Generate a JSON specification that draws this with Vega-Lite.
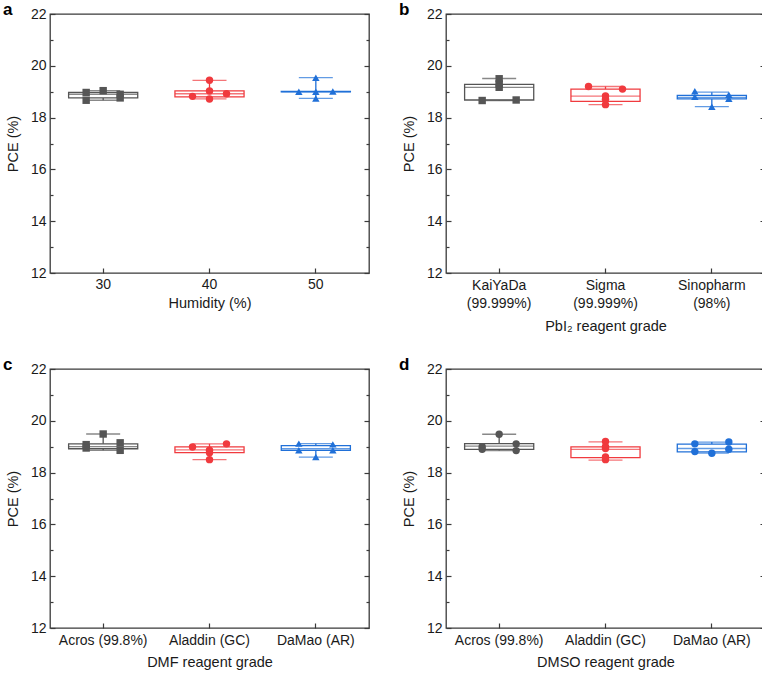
{
"$schema": "https://vega.github.io/schema/vega-lite/v6.json",
"background": "white",
"padding": {"left": 2, "top": 0, "right": 0, "bottom": 0},
"datasets": {
"pts": [
{"panel":"a","group":"30","side":"L","pce":18.97},
{"panel":"a","group":"30","side":"L","pce":18.67},
{"panel":"a","group":"30","side":"C","pce":19.04},
{"panel":"a","group":"30","side":"R","pce":18.9},
{"panel":"a","group":"30","side":"R","pce":18.76},
{"panel":"a","group":"40","side":"C","pce":19.44},
{"panel":"a","group":"40","side":"C","pce":19.03},
{"panel":"a","group":"40","side":"L","pce":18.82},
{"panel":"a","group":"40","side":"R","pce":18.92},
{"panel":"a","group":"40","side":"C","pce":18.72},
{"panel":"a","group":"50","side":"C","pce":19.54},
{"panel":"a","group":"50","side":"L","pce":19.0},
{"panel":"a","group":"50","side":"C","pce":19.0},
{"panel":"a","group":"50","side":"R","pce":19.01},
{"panel":"a","group":"50","side":"C","pce":18.74},
{"panel":"b","group":"KaiYaDa (99.999%)","side":"C","pce":19.5},
{"panel":"b","group":"KaiYaDa (99.999%)","side":"C","pce":19.3},
{"panel":"b","group":"KaiYaDa (99.999%)","side":"C","pce":19.17},
{"panel":"b","group":"KaiYaDa (99.999%)","side":"L","pce":18.66},
{"panel":"b","group":"KaiYaDa (99.999%)","side":"R","pce":18.68},
{"panel":"b","group":"Sigma (99.999%)","side":"L","pce":19.2},
{"panel":"b","group":"Sigma (99.999%)","side":"R","pce":19.1},
{"panel":"b","group":"Sigma (99.999%)","side":"C","pce":18.84},
{"panel":"b","group":"Sigma (99.999%)","side":"C","pce":18.71},
{"panel":"b","group":"Sigma (99.999%)","side":"C","pce":18.5},
{"panel":"b","group":"Sinopharm (98%)","side":"L","pce":19.02},
{"panel":"b","group":"Sinopharm (98%)","side":"L","pce":18.8},
{"panel":"b","group":"Sinopharm (98%)","side":"R","pce":18.88},
{"panel":"b","group":"Sinopharm (98%)","side":"R","pce":18.73},
{"panel":"b","group":"Sinopharm (98%)","side":"C","pce":18.42},
{"panel":"c","group":"Acros (99.8%)","side":"C","pce":19.49},
{"panel":"c","group":"Acros (99.8%)","side":"L","pce":19.08},
{"panel":"c","group":"Acros (99.8%)","side":"L","pce":18.95},
{"panel":"c","group":"Acros (99.8%)","side":"R","pce":19.15},
{"panel":"c","group":"Acros (99.8%)","side":"R","pce":18.86},
{"panel":"c","group":"Aladdin (GC)","side":"L","pce":18.99},
{"panel":"c","group":"Aladdin (GC)","side":"R","pce":19.11},
{"panel":"c","group":"Aladdin (GC)","side":"C","pce":18.86},
{"panel":"c","group":"Aladdin (GC)","side":"C","pce":18.77},
{"panel":"c","group":"Aladdin (GC)","side":"C","pce":18.5},
{"panel":"c","group":"DaMao (AR)","side":"L","pce":19.12},
{"panel":"c","group":"DaMao (AR)","side":"L","pce":18.86},
{"panel":"c","group":"DaMao (AR)","side":"R","pce":19.09},
{"panel":"c","group":"DaMao (AR)","side":"R","pce":18.86},
{"panel":"c","group":"DaMao (AR)","side":"C","pce":18.6},
{"panel":"d","group":"Acros (99.8%)","side":"C","pce":19.48},
{"panel":"d","group":"Acros (99.8%)","side":"L","pce":19.0},
{"panel":"d","group":"Acros (99.8%)","side":"L","pce":18.9},
{"panel":"d","group":"Acros (99.8%)","side":"R","pce":19.11},
{"panel":"d","group":"Acros (99.8%)","side":"R","pce":18.85},
{"panel":"d","group":"Aladdin (GC)","side":"C","pce":19.2},
{"panel":"d","group":"Aladdin (GC)","side":"C","pce":19.0},
{"panel":"d","group":"Aladdin (GC)","side":"C","pce":18.93},
{"panel":"d","group":"Aladdin (GC)","side":"C","pce":18.6},
{"panel":"d","group":"Aladdin (GC)","side":"C","pce":18.5},
{"panel":"d","group":"DaMao (AR)","side":"L","pce":19.11},
{"panel":"d","group":"DaMao (AR)","side":"L","pce":18.81},
{"panel":"d","group":"DaMao (AR)","side":"C","pce":18.75},
{"panel":"d","group":"DaMao (AR)","side":"R","pce":19.18},
{"panel":"d","group":"DaMao (AR)","side":"R","pce":18.9}
],
"box": [
{"panel":"a","group":"30","lo":18.67,"q1":18.76,"med":18.9,"q3":18.97,"hi":19.04},
{"panel":"a","group":"40","lo":18.72,"q1":18.8,"med":18.92,"q3":19.03,"hi":19.44},
{"panel":"a","group":"50","lo":18.74,"q1":18.99,"med":19.0,"q3":19.01,"hi":19.54},
{"panel":"b","group":"KaiYaDa (99.999%)","lo":18.66,"q1":18.68,"med":19.17,"q3":19.28,"hi":19.51},
{"panel":"b","group":"Sigma (99.999%)","lo":18.5,"q1":18.63,"med":18.83,"q3":19.1,"hi":19.2},
{"panel":"b","group":"Sinopharm (98%)","lo":18.42,"q1":18.72,"med":18.78,"q3":18.86,"hi":18.98},
{"panel":"c","group":"Acros (99.8%)","lo":18.86,"q1":18.92,"med":19.0,"q3":19.11,"hi":19.49},
{"panel":"c","group":"Aladdin (GC)","lo":18.5,"q1":18.77,"med":18.88,"q3":18.99,"hi":19.11},
{"panel":"c","group":"DaMao (AR)","lo":18.6,"q1":18.86,"med":18.92,"q3":19.04,"hi":19.12},
{"panel":"d","group":"Acros (99.8%)","lo":18.85,"q1":18.9,"med":19.02,"q3":19.12,"hi":19.48},
{"panel":"d","group":"Aladdin (GC)","lo":18.48,"q1":18.58,"med":18.9,"q3":18.99,"hi":19.19},
{"panel":"d","group":"DaMao (AR)","lo":18.75,"q1":18.8,"med":18.93,"q3":19.1,"hi":19.18}
]
},
"columns": 2,
"spacing": {"column": 27, "row": 21},
"resolve": {"scale": {"color": "independent", "stroke": "independent", "shape": "independent", "x": "independent", "y": "independent"}},
"concat": [
{
"width": 319, "height": 259,
"title": "a",
"resolve": {"axis": {"y": "independent"}},
"layer": [
{"data": {"name": "box"}, "transform": [{"filter": "datum.panel === 'a'"}],
 "mark": {"type": "rule", "strokeWidth": 1.3},
 "encoding": {
  "x": {"field": "group", "type": "nominal", "sort": ["30","40","50"], "scale": {"type": "band", "paddingInner": 0, "paddingOuter": 0}, "axis": {"title": "Humidity (%)", "labelPadding": 9, "titlePadding": 5}},
  "y": {"field": "lo", "type": "quantitative", "scale": {"domain": [12, 22], "nice": false, "zero": false},
        "axis": {"title": "PCE (%)", "orient": "left", "values": [12,13,14,15,16,17,18,19,20,21,22], "labelExpr": "datum.value % 2 === 0 ? datum.label : ''", "tickSize": {"condition": {"test": "datum.value % 2 === 0", "value": -5}, "value": -3}, "labelPadding": 9, "titlePadding": 10}},
  "y2": {"field": "hi"},
  "color": {"field": "group", "type": "nominal", "scale": {"domain": ["30","40","50"], "range": ["#555555","#f03a3e","#2070d8"]}, "legend": null}}},
{"data": {"name": "box"}, "transform": [{"filter": "datum.panel === 'a'"}],
 "mark": {"type": "bar", "width": {"band": 0.65}, "fill": "white", "strokeWidth": 1.3},
 "encoding": {
  "x": {"field": "group", "type": "nominal", "sort": ["30","40","50"], "scale": {"type": "band", "paddingInner": 0, "paddingOuter": 0}, "axis": {"title": "Humidity (%)", "labelPadding": 9, "titlePadding": 5}},
  "y": {"field": "q1", "type": "quantitative", "scale": {"domain": [12, 22], "nice": false, "zero": false},
        "axis": {"title": null, "orient": "right", "labels": false, "maxExtent": 0, "minExtent": 0, "values": [12,13,14,15,16,17,18,19,20,21,22], "tickSize": {"condition": {"test": "datum.value % 2 === 0", "value": -5}, "value": -3}}},
  "y2": {"field": "q3"},
  "stroke": {"field": "group", "type": "nominal", "scale": {"domain": ["30","40","50"], "range": ["#555555","#f03a3e","#2070d8"]}, "legend": null}}},
{"data": {"name": "box"}, "transform": [{"filter": "datum.panel === 'a'"}],
 "mark": {"type": "tick", "size": 69, "thickness": 1.3},
 "encoding": {
  "x": {"field": "group", "type": "nominal", "sort": ["30","40","50"], "scale": {"type": "band", "paddingInner": 0, "paddingOuter": 0}, "axis": {"title": "Humidity (%)", "labelPadding": 9, "titlePadding": 5}},
  "y": {"field": "med", "type": "quantitative", "scale": {"domain": [12, 22], "nice": false, "zero": false}, "axis": null},
  "color": {"field": "group", "type": "nominal", "scale": {"domain": ["30","40","50"], "range": ["#555555","#f03a3e","#2070d8"]}, "legend": null}}},
{"data": {"name": "box"}, "transform": [{"filter": "datum.panel === 'a'"}, {"fold": ["lo", "hi"], "as": ["k", "v"]}],
 "mark": {"type": "tick", "size": 34, "thickness": 1.3},
 "encoding": {
  "x": {"field": "group", "type": "nominal", "sort": ["30","40","50"], "scale": {"type": "band", "paddingInner": 0, "paddingOuter": 0}, "axis": {"title": "Humidity (%)", "labelPadding": 9, "titlePadding": 5}},
  "y": {"field": "v", "type": "quantitative", "scale": {"domain": [12, 22], "nice": false, "zero": false}, "axis": null},
  "color": {"field": "group", "type": "nominal", "scale": {"domain": ["30","40","50"], "range": ["#555555","#f03a3e","#2070d8"]}, "legend": null}}},
{"data": {"name": "pts"}, "transform": [{"filter": "datum.panel === 'a' && datum.side === 'L'"}],
 "mark": {"type": "point", "filled": true, "size": 55, "opacity": 1, "xOffset": -17},
 "encoding": {
  "x": {"field": "group", "type": "nominal", "sort": ["30","40","50"], "scale": {"type": "band", "paddingInner": 0, "paddingOuter": 0}, "axis": {"title": "Humidity (%)", "labelPadding": 9, "titlePadding": 5}},
  "y": {"field": "pce", "type": "quantitative", "scale": {"domain": [12, 22], "nice": false, "zero": false}, "axis": null},
  "color": {"field": "group", "type": "nominal", "scale": {"domain": ["30","40","50"], "range": ["#4d4d4d","#f03a3e","#2070d8"]}, "legend": null},
  "shape": {"field": "group", "type": "nominal", "scale": {"domain": ["30","40","50"], "range": ["square","circle","triangle-up"]}, "legend": null}}},
{"data": {"name": "pts"}, "transform": [{"filter": "datum.panel === 'a' && datum.side === 'C'"}],
 "mark": {"type": "point", "filled": true, "size": 55, "opacity": 1},
 "encoding": {
  "x": {"field": "group", "type": "nominal", "sort": ["30","40","50"], "scale": {"type": "band", "paddingInner": 0, "paddingOuter": 0}, "axis": {"title": "Humidity (%)", "labelPadding": 9, "titlePadding": 5}},
  "y": {"field": "pce", "type": "quantitative", "scale": {"domain": [12, 22], "nice": false, "zero": false}, "axis": null},
  "color": {"field": "group", "type": "nominal", "scale": {"domain": ["30","40","50"], "range": ["#4d4d4d","#f03a3e","#2070d8"]}, "legend": null},
  "shape": {"field": "group", "type": "nominal", "scale": {"domain": ["30","40","50"], "range": ["square","circle","triangle-up"]}, "legend": null}}},
{"data": {"name": "pts"}, "transform": [{"filter": "datum.panel === 'a' && datum.side === 'R'"}],
 "mark": {"type": "point", "filled": true, "size": 55, "opacity": 1, "xOffset": 17},
 "encoding": {
  "x": {"field": "group", "type": "nominal", "sort": ["30","40","50"], "scale": {"type": "band", "paddingInner": 0, "paddingOuter": 0}, "axis": {"title": "Humidity (%)", "labelPadding": 9, "titlePadding": 5}},
  "y": {"field": "pce", "type": "quantitative", "scale": {"domain": [12, 22], "nice": false, "zero": false}, "axis": null},
  "color": {"field": "group", "type": "nominal", "scale": {"domain": ["30","40","50"], "range": ["#4d4d4d","#f03a3e","#2070d8"]}, "legend": null},
  "shape": {"field": "group", "type": "nominal", "scale": {"domain": ["30","40","50"], "range": ["square","circle","triangle-up"]}, "legend": null}}}
]
},
{
"width": 319, "height": 259,
"title": "b",
"resolve": {"axis": {"y": "independent"}},
"layer": [
{"data": {"name": "box"}, "transform": [{"filter": "datum.panel === 'b'"}],
 "mark": {"type": "rule", "strokeWidth": 1.3},
 "encoding": {
  "x": {"field": "group", "type": "nominal", "sort": ["KaiYaDa (99.999%)","Sigma (99.999%)","Sinopharm (98%)"], "scale": {"type": "band", "paddingInner": 0, "paddingOuter": 0}, "axis": {"title": "PbI₂ reagent grade", "titlePadding": 9, "labelPadding": 10, "labelExpr": "split(datum.label, ' ')", "labelLineHeight": 18}},
  "y": {"field": "lo", "type": "quantitative", "scale": {"domain": [12, 22], "nice": false, "zero": false},
        "axis": {"title": "PCE (%)", "orient": "left", "values": [12,13,14,15,16,17,18,19,20,21,22], "labelExpr": "datum.value % 2 === 0 ? datum.label : ''", "tickSize": {"condition": {"test": "datum.value % 2 === 0", "value": -5}, "value": -3}, "labelPadding": 9, "titlePadding": 10}},
  "y2": {"field": "hi"},
  "color": {"field": "group", "type": "nominal", "scale": {"domain": ["KaiYaDa (99.999%)","Sigma (99.999%)","Sinopharm (98%)"], "range": ["#555555","#f03a3e","#2070d8"]}, "legend": null}}},
{"data": {"name": "box"}, "transform": [{"filter": "datum.panel === 'b'"}],
 "mark": {"type": "bar", "width": {"band": 0.65}, "fill": "white", "strokeWidth": 1.3},
 "encoding": {
  "x": {"field": "group", "type": "nominal", "sort": ["KaiYaDa (99.999%)","Sigma (99.999%)","Sinopharm (98%)"], "scale": {"type": "band", "paddingInner": 0, "paddingOuter": 0}, "axis": {"title": "PbI₂ reagent grade", "titlePadding": 9, "labelPadding": 10, "labelExpr": "split(datum.label, ' ')", "labelLineHeight": 18}},
  "y": {"field": "q1", "type": "quantitative", "scale": {"domain": [12, 22], "nice": false, "zero": false},
        "axis": {"title": null, "orient": "right", "labels": false, "maxExtent": 0, "minExtent": 0, "values": [12,13,14,15,16,17,18,19,20,21,22], "tickSize": {"condition": {"test": "datum.value % 2 === 0", "value": -5}, "value": -3}}},
  "y2": {"field": "q3"},
  "stroke": {"field": "group", "type": "nominal", "scale": {"domain": ["KaiYaDa (99.999%)","Sigma (99.999%)","Sinopharm (98%)"], "range": ["#555555","#f03a3e","#2070d8"]}, "legend": null}}},
{"data": {"name": "box"}, "transform": [{"filter": "datum.panel === 'b'"}],
 "mark": {"type": "tick", "size": 69, "thickness": 1.3},
 "encoding": {
  "x": {"field": "group", "type": "nominal", "sort": ["KaiYaDa (99.999%)","Sigma (99.999%)","Sinopharm (98%)"], "scale": {"type": "band", "paddingInner": 0, "paddingOuter": 0}, "axis": {"title": "PbI₂ reagent grade", "titlePadding": 9, "labelPadding": 10, "labelExpr": "split(datum.label, ' ')", "labelLineHeight": 18}},
  "y": {"field": "med", "type": "quantitative", "scale": {"domain": [12, 22], "nice": false, "zero": false}, "axis": null},
  "color": {"field": "group", "type": "nominal", "scale": {"domain": ["KaiYaDa (99.999%)","Sigma (99.999%)","Sinopharm (98%)"], "range": ["#555555","#f03a3e","#2070d8"]}, "legend": null}}},
{"data": {"name": "box"}, "transform": [{"filter": "datum.panel === 'b'"}, {"fold": ["lo", "hi"], "as": ["k", "v"]}],
 "mark": {"type": "tick", "size": 34, "thickness": 1.3},
 "encoding": {
  "x": {"field": "group", "type": "nominal", "sort": ["KaiYaDa (99.999%)","Sigma (99.999%)","Sinopharm (98%)"], "scale": {"type": "band", "paddingInner": 0, "paddingOuter": 0}, "axis": {"title": "PbI₂ reagent grade", "titlePadding": 9, "labelPadding": 10, "labelExpr": "split(datum.label, ' ')", "labelLineHeight": 18}},
  "y": {"field": "v", "type": "quantitative", "scale": {"domain": [12, 22], "nice": false, "zero": false}, "axis": null},
  "color": {"field": "group", "type": "nominal", "scale": {"domain": ["KaiYaDa (99.999%)","Sigma (99.999%)","Sinopharm (98%)"], "range": ["#555555","#f03a3e","#2070d8"]}, "legend": null}}},
{"data": {"name": "pts"}, "transform": [{"filter": "datum.panel === 'b' && datum.side === 'L'"}],
 "mark": {"type": "point", "filled": true, "size": 55, "opacity": 1, "xOffset": -17},
 "encoding": {
  "x": {"field": "group", "type": "nominal", "sort": ["KaiYaDa (99.999%)","Sigma (99.999%)","Sinopharm (98%)"], "scale": {"type": "band", "paddingInner": 0, "paddingOuter": 0}, "axis": {"title": "PbI₂ reagent grade", "titlePadding": 9, "labelPadding": 10, "labelExpr": "split(datum.label, ' ')", "labelLineHeight": 18}},
  "y": {"field": "pce", "type": "quantitative", "scale": {"domain": [12, 22], "nice": false, "zero": false}, "axis": null},
  "color": {"field": "group", "type": "nominal", "scale": {"domain": ["KaiYaDa (99.999%)","Sigma (99.999%)","Sinopharm (98%)"], "range": ["#4d4d4d","#f03a3e","#2070d8"]}, "legend": null},
  "shape": {"field": "group", "type": "nominal", "scale": {"domain": ["KaiYaDa (99.999%)","Sigma (99.999%)","Sinopharm (98%)"], "range": ["square","circle","triangle-up"]}, "legend": null}}},
{"data": {"name": "pts"}, "transform": [{"filter": "datum.panel === 'b' && datum.side === 'C'"}],
 "mark": {"type": "point", "filled": true, "size": 55, "opacity": 1},
 "encoding": {
  "x": {"field": "group", "type": "nominal", "sort": ["KaiYaDa (99.999%)","Sigma (99.999%)","Sinopharm (98%)"], "scale": {"type": "band", "paddingInner": 0, "paddingOuter": 0}, "axis": {"title": "PbI₂ reagent grade", "titlePadding": 9, "labelPadding": 10, "labelExpr": "split(datum.label, ' ')", "labelLineHeight": 18}},
  "y": {"field": "pce", "type": "quantitative", "scale": {"domain": [12, 22], "nice": false, "zero": false}, "axis": null},
  "color": {"field": "group", "type": "nominal", "scale": {"domain": ["KaiYaDa (99.999%)","Sigma (99.999%)","Sinopharm (98%)"], "range": ["#4d4d4d","#f03a3e","#2070d8"]}, "legend": null},
  "shape": {"field": "group", "type": "nominal", "scale": {"domain": ["KaiYaDa (99.999%)","Sigma (99.999%)","Sinopharm (98%)"], "range": ["square","circle","triangle-up"]}, "legend": null}}},
{"data": {"name": "pts"}, "transform": [{"filter": "datum.panel === 'b' && datum.side === 'R'"}],
 "mark": {"type": "point", "filled": true, "size": 55, "opacity": 1, "xOffset": 17},
 "encoding": {
  "x": {"field": "group", "type": "nominal", "sort": ["KaiYaDa (99.999%)","Sigma (99.999%)","Sinopharm (98%)"], "scale": {"type": "band", "paddingInner": 0, "paddingOuter": 0}, "axis": {"title": "PbI₂ reagent grade", "titlePadding": 9, "labelPadding": 10, "labelExpr": "split(datum.label, ' ')", "labelLineHeight": 18}},
  "y": {"field": "pce", "type": "quantitative", "scale": {"domain": [12, 22], "nice": false, "zero": false}, "axis": null},
  "color": {"field": "group", "type": "nominal", "scale": {"domain": ["KaiYaDa (99.999%)","Sigma (99.999%)","Sinopharm (98%)"], "range": ["#4d4d4d","#f03a3e","#2070d8"]}, "legend": null},
  "shape": {"field": "group", "type": "nominal", "scale": {"domain": ["KaiYaDa (99.999%)","Sigma (99.999%)","Sinopharm (98%)"], "range": ["square","circle","triangle-up"]}, "legend": null}}}
]
},
{
"width": 319, "height": 259,
"title": "c",
"resolve": {"axis": {"y": "independent"}},
"layer": [
{"data": {"name": "box"}, "transform": [{"filter": "datum.panel === 'c'"}],
 "mark": {"type": "rule", "strokeWidth": 1.3},
 "encoding": {
  "x": {"field": "group", "type": "nominal", "sort": ["Acros (99.8%)","Aladdin (GC)","DaMao (AR)"], "scale": {"type": "band", "paddingInner": 0, "paddingOuter": 0}, "axis": {"title": "DMF reagent grade", "labelPadding": 10, "titlePadding": 8}},
  "y": {"field": "lo", "type": "quantitative", "scale": {"domain": [12, 22], "nice": false, "zero": false},
        "axis": {"title": "PCE (%)", "orient": "left", "values": [12,13,14,15,16,17,18,19,20,21,22], "labelExpr": "datum.value % 2 === 0 ? datum.label : ''", "tickSize": {"condition": {"test": "datum.value % 2 === 0", "value": -5}, "value": -3}, "labelPadding": 9, "titlePadding": 10}},
  "y2": {"field": "hi"},
  "color": {"field": "group", "type": "nominal", "scale": {"domain": ["Acros (99.8%)","Aladdin (GC)","DaMao (AR)"], "range": ["#555555","#f03a3e","#2070d8"]}, "legend": null}}},
{"data": {"name": "box"}, "transform": [{"filter": "datum.panel === 'c'"}],
 "mark": {"type": "bar", "width": {"band": 0.65}, "fill": "white", "strokeWidth": 1.3},
 "encoding": {
  "x": {"field": "group", "type": "nominal", "sort": ["Acros (99.8%)","Aladdin (GC)","DaMao (AR)"], "scale": {"type": "band", "paddingInner": 0, "paddingOuter": 0}, "axis": {"title": "DMF reagent grade", "labelPadding": 10, "titlePadding": 8}},
  "y": {"field": "q1", "type": "quantitative", "scale": {"domain": [12, 22], "nice": false, "zero": false},
        "axis": {"title": null, "orient": "right", "labels": false, "maxExtent": 0, "minExtent": 0, "values": [12,13,14,15,16,17,18,19,20,21,22], "tickSize": {"condition": {"test": "datum.value % 2 === 0", "value": -5}, "value": -3}}},
  "y2": {"field": "q3"},
  "stroke": {"field": "group", "type": "nominal", "scale": {"domain": ["Acros (99.8%)","Aladdin (GC)","DaMao (AR)"], "range": ["#555555","#f03a3e","#2070d8"]}, "legend": null}}},
{"data": {"name": "box"}, "transform": [{"filter": "datum.panel === 'c'"}],
 "mark": {"type": "tick", "size": 69, "thickness": 1.3},
 "encoding": {
  "x": {"field": "group", "type": "nominal", "sort": ["Acros (99.8%)","Aladdin (GC)","DaMao (AR)"], "scale": {"type": "band", "paddingInner": 0, "paddingOuter": 0}, "axis": {"title": "DMF reagent grade", "labelPadding": 10, "titlePadding": 8}},
  "y": {"field": "med", "type": "quantitative", "scale": {"domain": [12, 22], "nice": false, "zero": false}, "axis": null},
  "color": {"field": "group", "type": "nominal", "scale": {"domain": ["Acros (99.8%)","Aladdin (GC)","DaMao (AR)"], "range": ["#555555","#f03a3e","#2070d8"]}, "legend": null}}},
{"data": {"name": "box"}, "transform": [{"filter": "datum.panel === 'c'"}, {"fold": ["lo", "hi"], "as": ["k", "v"]}],
 "mark": {"type": "tick", "size": 34, "thickness": 1.3},
 "encoding": {
  "x": {"field": "group", "type": "nominal", "sort": ["Acros (99.8%)","Aladdin (GC)","DaMao (AR)"], "scale": {"type": "band", "paddingInner": 0, "paddingOuter": 0}, "axis": {"title": "DMF reagent grade", "labelPadding": 10, "titlePadding": 8}},
  "y": {"field": "v", "type": "quantitative", "scale": {"domain": [12, 22], "nice": false, "zero": false}, "axis": null},
  "color": {"field": "group", "type": "nominal", "scale": {"domain": ["Acros (99.8%)","Aladdin (GC)","DaMao (AR)"], "range": ["#555555","#f03a3e","#2070d8"]}, "legend": null}}},
{"data": {"name": "pts"}, "transform": [{"filter": "datum.panel === 'c' && datum.side === 'L'"}],
 "mark": {"type": "point", "filled": true, "size": 55, "opacity": 1, "xOffset": -17},
 "encoding": {
  "x": {"field": "group", "type": "nominal", "sort": ["Acros (99.8%)","Aladdin (GC)","DaMao (AR)"], "scale": {"type": "band", "paddingInner": 0, "paddingOuter": 0}, "axis": {"title": "DMF reagent grade", "labelPadding": 10, "titlePadding": 8}},
  "y": {"field": "pce", "type": "quantitative", "scale": {"domain": [12, 22], "nice": false, "zero": false}, "axis": null},
  "color": {"field": "group", "type": "nominal", "scale": {"domain": ["Acros (99.8%)","Aladdin (GC)","DaMao (AR)"], "range": ["#4d4d4d","#f03a3e","#2070d8"]}, "legend": null},
  "shape": {"field": "group", "type": "nominal", "scale": {"domain": ["Acros (99.8%)","Aladdin (GC)","DaMao (AR)"], "range": ["square","circle","triangle-up"]}, "legend": null}}},
{"data": {"name": "pts"}, "transform": [{"filter": "datum.panel === 'c' && datum.side === 'C'"}],
 "mark": {"type": "point", "filled": true, "size": 55, "opacity": 1},
 "encoding": {
  "x": {"field": "group", "type": "nominal", "sort": ["Acros (99.8%)","Aladdin (GC)","DaMao (AR)"], "scale": {"type": "band", "paddingInner": 0, "paddingOuter": 0}, "axis": {"title": "DMF reagent grade", "labelPadding": 10, "titlePadding": 8}},
  "y": {"field": "pce", "type": "quantitative", "scale": {"domain": [12, 22], "nice": false, "zero": false}, "axis": null},
  "color": {"field": "group", "type": "nominal", "scale": {"domain": ["Acros (99.8%)","Aladdin (GC)","DaMao (AR)"], "range": ["#4d4d4d","#f03a3e","#2070d8"]}, "legend": null},
  "shape": {"field": "group", "type": "nominal", "scale": {"domain": ["Acros (99.8%)","Aladdin (GC)","DaMao (AR)"], "range": ["square","circle","triangle-up"]}, "legend": null}}},
{"data": {"name": "pts"}, "transform": [{"filter": "datum.panel === 'c' && datum.side === 'R'"}],
 "mark": {"type": "point", "filled": true, "size": 55, "opacity": 1, "xOffset": 17},
 "encoding": {
  "x": {"field": "group", "type": "nominal", "sort": ["Acros (99.8%)","Aladdin (GC)","DaMao (AR)"], "scale": {"type": "band", "paddingInner": 0, "paddingOuter": 0}, "axis": {"title": "DMF reagent grade", "labelPadding": 10, "titlePadding": 8}},
  "y": {"field": "pce", "type": "quantitative", "scale": {"domain": [12, 22], "nice": false, "zero": false}, "axis": null},
  "color": {"field": "group", "type": "nominal", "scale": {"domain": ["Acros (99.8%)","Aladdin (GC)","DaMao (AR)"], "range": ["#4d4d4d","#f03a3e","#2070d8"]}, "legend": null},
  "shape": {"field": "group", "type": "nominal", "scale": {"domain": ["Acros (99.8%)","Aladdin (GC)","DaMao (AR)"], "range": ["square","circle","triangle-up"]}, "legend": null}}}
]
},
{
"width": 319, "height": 259,
"title": "d",
"resolve": {"axis": {"y": "independent"}},
"layer": [
{"data": {"name": "box"}, "transform": [{"filter": "datum.panel === 'd'"}],
 "mark": {"type": "rule", "strokeWidth": 1.3},
 "encoding": {
  "x": {"field": "group", "type": "nominal", "sort": ["Acros (99.8%)","Aladdin (GC)","DaMao (AR)"], "scale": {"type": "band", "paddingInner": 0, "paddingOuter": 0}, "axis": {"title": "DMSO reagent grade", "labelPadding": 10, "titlePadding": 8}},
  "y": {"field": "lo", "type": "quantitative", "scale": {"domain": [12, 22], "nice": false, "zero": false},
        "axis": {"title": "PCE (%)", "orient": "left", "values": [12,13,14,15,16,17,18,19,20,21,22], "labelExpr": "datum.value % 2 === 0 ? datum.label : ''", "tickSize": {"condition": {"test": "datum.value % 2 === 0", "value": -5}, "value": -3}, "labelPadding": 9, "titlePadding": 10}},
  "y2": {"field": "hi"},
  "color": {"field": "group", "type": "nominal", "scale": {"domain": ["Acros (99.8%)","Aladdin (GC)","DaMao (AR)"], "range": ["#555555","#f03a3e","#2070d8"]}, "legend": null}}},
{"data": {"name": "box"}, "transform": [{"filter": "datum.panel === 'd'"}],
 "mark": {"type": "bar", "width": {"band": 0.65}, "fill": "white", "strokeWidth": 1.3},
 "encoding": {
  "x": {"field": "group", "type": "nominal", "sort": ["Acros (99.8%)","Aladdin (GC)","DaMao (AR)"], "scale": {"type": "band", "paddingInner": 0, "paddingOuter": 0}, "axis": {"title": "DMSO reagent grade", "labelPadding": 10, "titlePadding": 8}},
  "y": {"field": "q1", "type": "quantitative", "scale": {"domain": [12, 22], "nice": false, "zero": false},
        "axis": {"title": null, "orient": "right", "labels": false, "maxExtent": 0, "minExtent": 0, "values": [12,13,14,15,16,17,18,19,20,21,22], "tickSize": {"condition": {"test": "datum.value % 2 === 0", "value": -5}, "value": -3}}},
  "y2": {"field": "q3"},
  "stroke": {"field": "group", "type": "nominal", "scale": {"domain": ["Acros (99.8%)","Aladdin (GC)","DaMao (AR)"], "range": ["#555555","#f03a3e","#2070d8"]}, "legend": null}}},
{"data": {"name": "box"}, "transform": [{"filter": "datum.panel === 'd'"}],
 "mark": {"type": "tick", "size": 69, "thickness": 1.3},
 "encoding": {
  "x": {"field": "group", "type": "nominal", "sort": ["Acros (99.8%)","Aladdin (GC)","DaMao (AR)"], "scale": {"type": "band", "paddingInner": 0, "paddingOuter": 0}, "axis": {"title": "DMSO reagent grade", "labelPadding": 10, "titlePadding": 8}},
  "y": {"field": "med", "type": "quantitative", "scale": {"domain": [12, 22], "nice": false, "zero": false}, "axis": null},
  "color": {"field": "group", "type": "nominal", "scale": {"domain": ["Acros (99.8%)","Aladdin (GC)","DaMao (AR)"], "range": ["#555555","#f03a3e","#2070d8"]}, "legend": null}}},
{"data": {"name": "box"}, "transform": [{"filter": "datum.panel === 'd'"}, {"fold": ["lo", "hi"], "as": ["k", "v"]}],
 "mark": {"type": "tick", "size": 34, "thickness": 1.3},
 "encoding": {
  "x": {"field": "group", "type": "nominal", "sort": ["Acros (99.8%)","Aladdin (GC)","DaMao (AR)"], "scale": {"type": "band", "paddingInner": 0, "paddingOuter": 0}, "axis": {"title": "DMSO reagent grade", "labelPadding": 10, "titlePadding": 8}},
  "y": {"field": "v", "type": "quantitative", "scale": {"domain": [12, 22], "nice": false, "zero": false}, "axis": null},
  "color": {"field": "group", "type": "nominal", "scale": {"domain": ["Acros (99.8%)","Aladdin (GC)","DaMao (AR)"], "range": ["#555555","#f03a3e","#2070d8"]}, "legend": null}}},
{"data": {"name": "pts"}, "transform": [{"filter": "datum.panel === 'd' && datum.side === 'L'"}],
 "mark": {"type": "point", "filled": true, "size": 55, "opacity": 1, "xOffset": -17, "shape": "circle"},
 "encoding": {
  "x": {"field": "group", "type": "nominal", "sort": ["Acros (99.8%)","Aladdin (GC)","DaMao (AR)"], "scale": {"type": "band", "paddingInner": 0, "paddingOuter": 0}, "axis": {"title": "DMSO reagent grade", "labelPadding": 10, "titlePadding": 8}},
  "y": {"field": "pce", "type": "quantitative", "scale": {"domain": [12, 22], "nice": false, "zero": false}, "axis": null},
  "color": {"field": "group", "type": "nominal", "scale": {"domain": ["Acros (99.8%)","Aladdin (GC)","DaMao (AR)"], "range": ["#4d4d4d","#f03a3e","#2070d8"]}, "legend": null}}},
{"data": {"name": "pts"}, "transform": [{"filter": "datum.panel === 'd' && datum.side === 'C'"}],
 "mark": {"type": "point", "filled": true, "size": 55, "opacity": 1, "shape": "circle"},
 "encoding": {
  "x": {"field": "group", "type": "nominal", "sort": ["Acros (99.8%)","Aladdin (GC)","DaMao (AR)"], "scale": {"type": "band", "paddingInner": 0, "paddingOuter": 0}, "axis": {"title": "DMSO reagent grade", "labelPadding": 10, "titlePadding": 8}},
  "y": {"field": "pce", "type": "quantitative", "scale": {"domain": [12, 22], "nice": false, "zero": false}, "axis": null},
  "color": {"field": "group", "type": "nominal", "scale": {"domain": ["Acros (99.8%)","Aladdin (GC)","DaMao (AR)"], "range": ["#4d4d4d","#f03a3e","#2070d8"]}, "legend": null}}},
{"data": {"name": "pts"}, "transform": [{"filter": "datum.panel === 'd' && datum.side === 'R'"}],
 "mark": {"type": "point", "filled": true, "size": 55, "opacity": 1, "xOffset": 17, "shape": "circle"},
 "encoding": {
  "x": {"field": "group", "type": "nominal", "sort": ["Acros (99.8%)","Aladdin (GC)","DaMao (AR)"], "scale": {"type": "band", "paddingInner": 0, "paddingOuter": 0}, "axis": {"title": "DMSO reagent grade", "labelPadding": 10, "titlePadding": 8}},
  "y": {"field": "pce", "type": "quantitative", "scale": {"domain": [12, 22], "nice": false, "zero": false}, "axis": null},
  "color": {"field": "group", "type": "nominal", "scale": {"domain": ["Acros (99.8%)","Aladdin (GC)","DaMao (AR)"], "range": ["#4d4d4d","#f03a3e","#2070d8"]}, "legend": null}}}
]
}
],
"config": {
 "font": "Liberation Sans",
 "view": {"stroke": "#3a3a3a", "strokeWidth": 1.3},
 "title": {"anchor": "start", "frame": "group", "fontSize": 17, "fontWeight": "bold", "dx": -47, "offset": -12, "color": "#000000", "font": "Liberation Sans"},
 "axis": {"labelFont": "Liberation Sans", "titleFont": "Liberation Sans", "labelFontSize": 14, "titleFontSize": 14.5, "titleFontWeight": "normal", "labelColor": "#1a1a1a", "titleColor": "#1a1a1a", "tickColor": "#3a3a3a", "tickWidth": 1.2, "grid": false, "domain": false},
 "axisX": {"tickSize": -5, "labelAngle": 0}
}
}
